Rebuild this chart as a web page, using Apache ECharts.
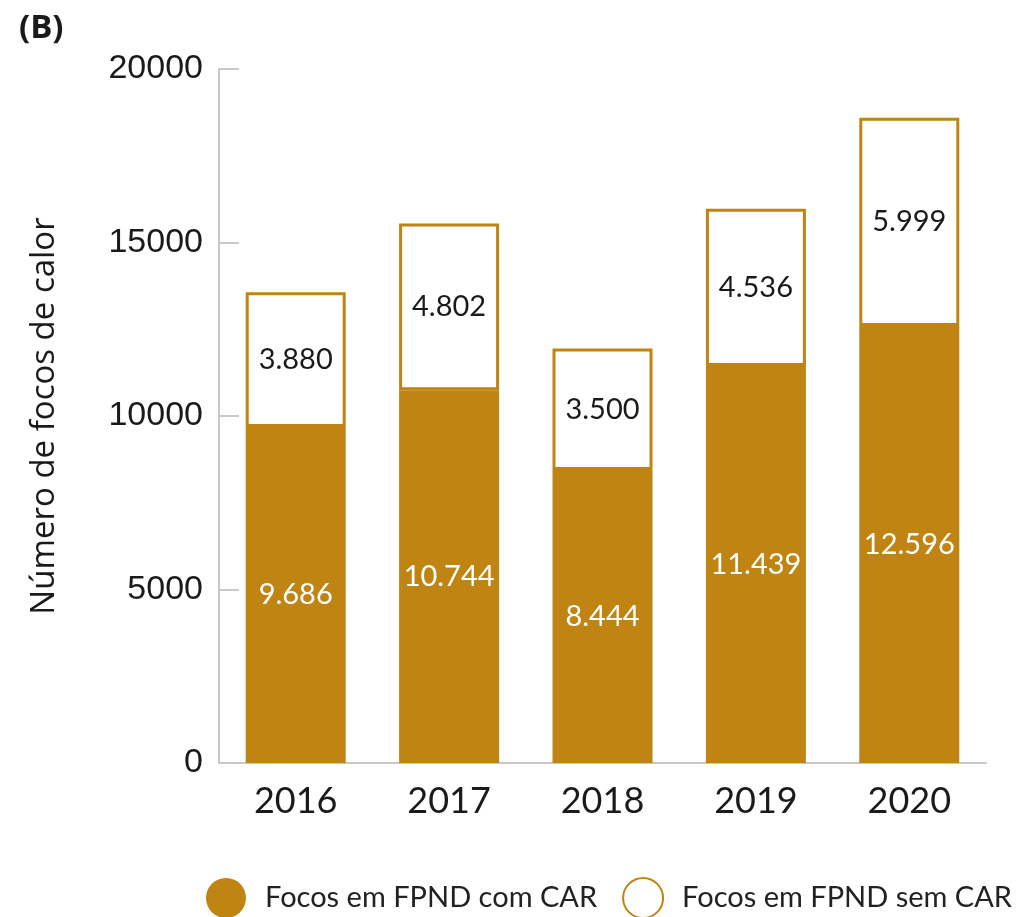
<!DOCTYPE html>
<html>
<head>
<meta charset="utf-8">
<script src="https://cdn.jsdelivr.net/npm/echarts@6/dist/echarts.min.js"></script>
<style>
  html, body { margin: 0; padding: 0; background: #fff; }
  #chart { width: 1025px; height: 917px; }
</style>
</head>
<body>
<div id="chart"></div>
<script>
const years = ['2016', '2017', '2018', '2019', '2020']
const comCar = [9686, 10744, 8444, 11439, 12596]
const semCar = [3880, 4802, 3500, 4536, 5999]
const yTicks = [0, 5000, 10000, 15000, 20000]

const gold = '#bf8412'
const axisGrey = '#c8c8c8'

// 9686 -> "9.686"
function ptNumber(v) {
  return String(v).replace(/\B(?=(\d{3})+(?!\d))/g, '.')
}

const chart = echarts.init(document.getElementById('chart'))
chart.setOption({
  animation: false,
  title: {
    text: '(B)',
    left: 14,
    top: 7,
    textStyle: { fontFamily: 'Open Sans', fontWeight: 'bold', fontSize: 33, color: '#1a1a1a' }
  },
  legend: {
    left: 206,
    top: 877,
    padding: 0,
    icon: 'circle',
    itemWidth: 40,
    itemHeight: 40,
    itemGap: 25,
    textStyle: { fontFamily: 'Lato', fontSize: 29, color: '#222', padding: [0, 0, 0, 14] },
    data: ['Focos em FPND com CAR', 'Focos em FPND sem CAR']
  },
  grid: { left: 219, right: 39, top: 69, bottom: 154 },
  xAxis: {
    type: 'category',
    data: years,
    axisLine: { lineStyle: { color: axisGrey, width: 2 } },
    axisTick: { inside: true, length: 18, lineStyle: { color: axisGrey, width: 2 } },
    axisLabel: { margin: 20, fontFamily: 'Lato', fontSize: 36, color: '#1a1a1a' }
  },
  yAxis: {
    type: 'value',
    min: yTicks[0],
    max: yTicks[yTicks.length - 1],
    interval: yTicks[1] - yTicks[0],
    name: 'Número de focos de calor',
    nameLocation: 'middle',
    nameGap: 158,
    nameTextStyle: { fontFamily: 'Open Sans', fontSize: 33, color: '#1a1a1a' },
    axisLine: { show: true, lineStyle: { color: axisGrey, width: 2 } },
    axisTick: { show: true, inside: true, length: 20, lineStyle: { color: axisGrey, width: 2 } },
    splitLine: { show: false },
    axisLabel: {
      margin: 16,
      formatter: v => String(v),
      fontFamily: 'Liberation Sans',
      fontSize: 34,
      color: '#1a1a1a'
    }
  },
  series: [
    {
      name: 'Focos em FPND com CAR',
      type: 'bar',
      stack: 'total',
      barWidth: 100,
      data: comCar,
      itemStyle: { color: gold },
      label: {
        show: true,
        position: 'inside',
        formatter: p => ptNumber(p.value),
        fontFamily: 'Lato',
        fontSize: 29,
        color: '#fff'
      }
    },
    {
      name: 'Focos em FPND sem CAR',
      type: 'bar',
      stack: 'total',
      barWidth: 100,
      data: semCar,
      itemStyle: { color: '#fff', borderColor: gold, borderWidth: 3 },
      label: {
        show: true,
        position: 'inside',
        formatter: p => ptNumber(p.value),
        fontFamily: 'Lato',
        fontSize: 29,
        color: '#1a1a1a'
      }
    }
  ]
})
</script>
</body>
</html>
